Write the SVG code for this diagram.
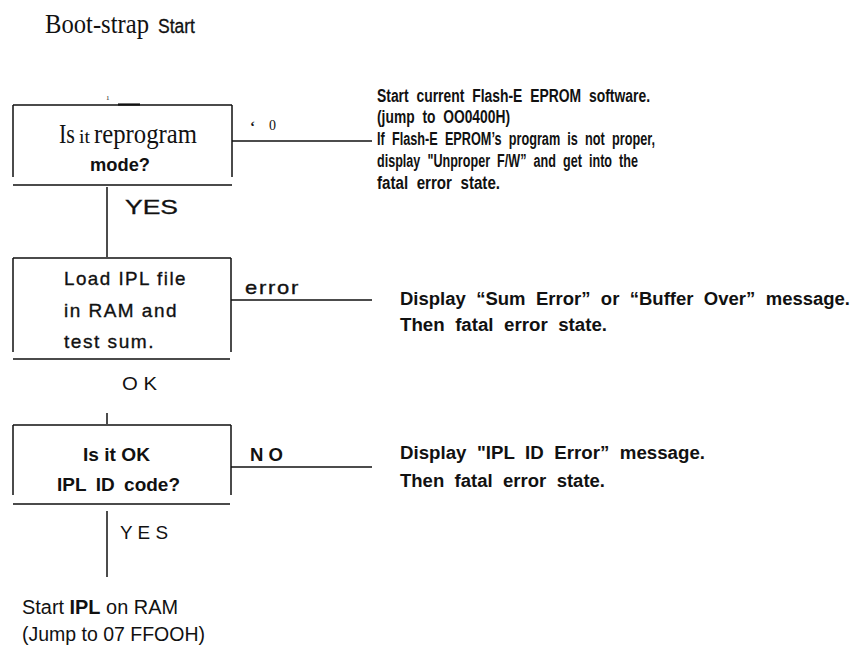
<svg xmlns="http://www.w3.org/2000/svg" width="859" height="647" viewBox="0 0 859 647">
<style>
.ln{stroke:#111;stroke-width:1.5;fill:none}
.serif{font-family:"Liberation Serif","Times New Roman",serif;fill:#111}
.sans{font-family:"Liberation Sans",Arial,sans-serif;fill:#111}
.note{font-family:"Liberation Sans",Arial,sans-serif;font-weight:bold;font-size:17.5px;fill:#111;word-spacing:5px}
.box{font-family:"Liberation Sans",Arial,sans-serif;font-size:19px;fill:#111;stroke:#111;stroke-width:0.35;letter-spacing:1.5px}
</style>
<rect width="859" height="647" fill="#fff"/>
<g id="title">
<text class="serif" x="45" y="33" font-size="27" textLength="104" lengthAdjust="spacingAndGlyphs">Boot-strap</text>
<text class="sans" x="158" y="33" font-size="20" stroke="#111" stroke-width="0.3" textLength="37" lengthAdjust="spacingAndGlyphs">Start</text>
</g>
<g id="node-reprogram">
<text class="serif" x="106" y="100" font-size="7">1</text>
<path class="ln" d="M13,105 H232 M13,105 V177 M232,105 V177 M13,185 H232"/>
<path d="M118,104.5 H140" stroke="#111" stroke-width="2.2"/>
<text class="serif" x="59" y="143" font-size="28" textLength="16" lengthAdjust="spacingAndGlyphs">Is</text>
<text class="serif" x="79" y="143" font-size="18" textLength="11" lengthAdjust="spacingAndGlyphs">it</text>
<text class="serif" x="94" y="143" font-size="28" textLength="103" lengthAdjust="spacingAndGlyphs">reprogram</text>
<text class="sans" x="90" y="171" font-size="18" font-weight="bold" textLength="60" lengthAdjust="spacingAndGlyphs">mode?</text>
</g>
<g id="node-load">
<path class="ln" d="M13,258 H231 M13,258 V352 M231,258 V352 M13,359 H230"/>
<text class="box" x="64" y="285" textLength="123" lengthAdjust="spacingAndGlyphs">Load IPL file</text>
<text class="box" x="64" y="317" textLength="114" lengthAdjust="spacingAndGlyphs">in RAM and</text>
<text class="box" x="64" y="348" textLength="91" lengthAdjust="spacingAndGlyphs">test sum.</text>
</g>
<g id="node-idcheck">
<path class="ln" d="M13,425 H231 M13,425 V495 M231,425 V495 M13,504 H230"/>
<text class="sans" x="83" y="461" font-size="18" font-weight="bold" textLength="67" lengthAdjust="spacingAndGlyphs">Is it OK</text>
<text class="sans" x="57" y="491" font-size="18" font-weight="bold" word-spacing="4" textLength="123" lengthAdjust="spacingAndGlyphs">IPL ID code?</text>
</g>
<g id="node-startipl">
<text class="sans" x="22" y="614" font-size="20" textLength="156" lengthAdjust="spacingAndGlyphs">Start <tspan font-weight="bold">IPL</tspan> on RAM</text>
<text class="sans" x="22" y="641" font-size="20" textLength="183" lengthAdjust="spacingAndGlyphs">(Jump to 07 FFOOH)</text>
</g>
<g id="note-flash">
<text class="note" x="377" y="102" textLength="273" lengthAdjust="spacingAndGlyphs">Start current Flash-E EPROM software.</text>
<text class="note" x="377" y="123" textLength="133" lengthAdjust="spacingAndGlyphs">(jump to OO0400H)</text>
<text class="note" x="377" y="145" textLength="278" lengthAdjust="spacingAndGlyphs">If Flash-E EPROM’s program is not proper,</text>
<text class="note" x="377" y="167" textLength="261" lengthAdjust="spacingAndGlyphs">display "Unproper F/W” and get into the</text>
<text class="note" x="377" y="189" textLength="123" lengthAdjust="spacingAndGlyphs">fatal error state.</text>
</g>
<g id="note-sum">
<text class="note" x="400" y="305" textLength="450" lengthAdjust="spacingAndGlyphs">Display “Sum Error” or “Buffer Over” message.</text>
<text class="note" x="400" y="331" textLength="207" lengthAdjust="spacingAndGlyphs">Then fatal error state.</text>
</g>
<g id="note-id">
<text class="note" x="400" y="459" textLength="305" lengthAdjust="spacingAndGlyphs">Display "IPL ID Error” message.</text>
<text class="note" x="400" y="487" textLength="205" lengthAdjust="spacingAndGlyphs">Then fatal error state.</text>
</g>
<g id="connectors">
<path class="ln" d="M232,141 H372"/>
<text class="serif" x="250" y="131" font-size="15" font-weight="bold">‘</text>
<text class="serif" x="269" y="130" font-size="14">0</text>
<path class="ln" d="M107,187 V257"/>
<text class="sans" x="125" y="214" font-size="20" stroke="#111" stroke-width="0.3" textLength="53" lengthAdjust="spacingAndGlyphs">YES</text>
<path class="ln" d="M231,300 H372"/>
<text class="box" x="245" y="294" textLength="55" lengthAdjust="spacingAndGlyphs">error</text>
<text class="sans" x="122" y="390" font-size="19" textLength="35" lengthAdjust="spacingAndGlyphs">O K</text>
<path class="ln" d="M107,413 V424"/>
<path class="ln" d="M231,467 H372"/>
<text class="sans" x="250" y="461" font-size="18" font-weight="bold" textLength="33" lengthAdjust="spacingAndGlyphs">N O</text>
<path class="ln" d="M107,511 V577"/>
<text class="sans" x="120" y="539" font-size="19" textLength="48" lengthAdjust="spacingAndGlyphs">Y E S</text>
</g>
</svg>
